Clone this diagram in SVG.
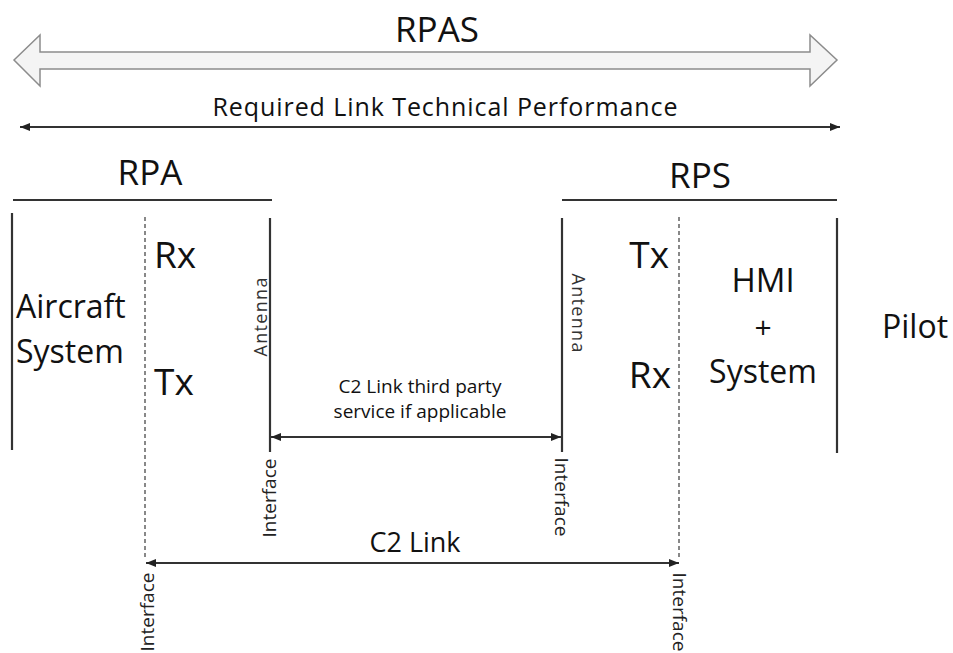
<svg xmlns="http://www.w3.org/2000/svg" width="953" height="653" viewBox="0 0 953 653">
<defs>
<marker id="ah" viewBox="0 0 10 8" refX="10" refY="4" markerWidth="10" markerHeight="8" markerUnits="userSpaceOnUse" orient="auto-start-reverse">
<path d="M0,0 L10,4 L0,8 Z" fill="#222"/>
</marker>
<style>
text{font-family:"Open Sans","Noto Sans",sans-serif;fill:#111}
.big{font-size:32px}
.sm{font-size:18px;fill:#333}
.itf{font-size:19px;fill:#222}
.solid{stroke:#333;stroke-width:2.2;fill:none}
.dash{stroke:#888;stroke-width:2;stroke-dasharray:4,3;fill:none}
.conn{stroke:#333;stroke-width:2;fill:none;marker-start:url(#ah);marker-end:url(#ah)}
</style>
</defs>
<rect width="953" height="653" fill="#fff"/>
<g id="rpas">
<polygon points="14,60 40,35 40,52 810,52 810,35 837,60 810,86 810,69 40,69 40,86" fill="#f4f4f4" stroke="#8c8c8c" stroke-width="1.5"/>
<text x="437" y="42" font-size="35" text-anchor="middle">RPAS</text>
</g>
<g id="required-link">
<text x="445" y="116" font-size="25" text-anchor="middle" fill="#222" textLength="465">Required Link Technical Performance</text>
</g>
<g id="rpa">
<text x="150" y="185" font-size="35" text-anchor="middle">RPA</text>
<line x1="13" y1="200" x2="272" y2="200" class="solid"/>
<line x1="12" y1="213" x2="12" y2="450" class="solid"/>
<text x="16" y="318" class="big">Aircraft</text>
<text x="16" y="363" class="big">System</text>
<text x="154" y="268" font-size="37">Rx</text>
<text x="154" y="395" font-size="37">Tx</text>
</g>
<g id="rpa-antenna">
<line x1="270" y1="218" x2="270" y2="452" class="solid"/>
<text transform="translate(260,317) rotate(-90)" class="sm" text-anchor="middle" dominant-baseline="central" textLength="79">Antenna</text>
<text transform="translate(269,498) rotate(-90)" class="itf" text-anchor="middle" dominant-baseline="central">Interface</text>
</g>
<g id="rps">
<text x="700" y="188" font-size="35" text-anchor="middle">RPS</text>
<line x1="562" y1="200" x2="837" y2="200" class="solid"/>
<text x="669" y="268" font-size="37" text-anchor="end">Tx</text>
<text x="671" y="388" font-size="37" text-anchor="end">Rx</text>
<text x="763" y="292" font-size="33" text-anchor="middle">HMI</text>
<text x="763" y="338" font-size="30" text-anchor="middle">+</text>
<text x="763" y="383" class="big" text-anchor="middle">System</text>
<line x1="837" y1="218" x2="837" y2="453" class="solid"/>
</g>
<g id="rps-antenna">
<line x1="562" y1="218" x2="562" y2="452" class="solid"/>
<text transform="translate(579,313) rotate(90)" class="sm" text-anchor="middle" dominant-baseline="central" textLength="79">Antenna</text>
<text transform="translate(562,497) rotate(90)" class="itf" text-anchor="middle" dominant-baseline="central">Interface</text>
</g>
<g id="pilot">
<text x="882" y="338" font-size="32">Pilot</text>
</g>
<g id="rpa-interface">
<line x1="145" y1="217" x2="145" y2="560" class="dash"/>
<text transform="translate(147,612) rotate(-90)" class="itf" text-anchor="middle" dominant-baseline="central">Interface</text>
</g>
<g id="rps-interface">
<line x1="679" y1="217" x2="679" y2="560" class="dash"/>
<text transform="translate(680,612) rotate(90)" class="itf" text-anchor="middle" dominant-baseline="central">Interface</text>
</g>
<g id="connectors">
<line x1="20" y1="127" x2="840" y2="127" class="conn"/>
<line x1="271" y1="437" x2="561" y2="437" class="conn"/>
<line x1="146" y1="563" x2="679" y2="563" class="conn"/>
</g>
<g id="labels">
<text x="420" y="393" font-size="19" text-anchor="middle" fill="#333">C2 Link third party</text>
<text x="420" y="418" font-size="19" text-anchor="middle" fill="#333">service if applicable</text>
<text x="415" y="552" font-size="27" text-anchor="middle">C2 Link</text>
</g>
</svg>
